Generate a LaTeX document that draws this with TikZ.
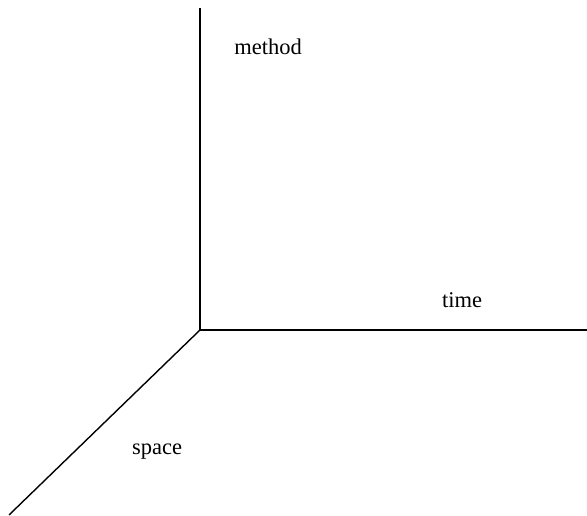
\documentclass[tikz,border=0pt]{standalone}
\usepackage{fontspec}
\setmainfont{Liberation Serif}

\begin{document}
\begin{tikzpicture}[x=1pt, y=1pt, axis/.style={line width=1.4pt}, label/.style={font=\fontsize{22.5}{27}\selectfont, inner sep=0pt}]
\useasboundingbox (0,0) rectangle (587,516);
\coordinate (origin) at (200,186);
\coordinate (methodend) at (200,508);
\coordinate (timeend) at (587,186);
\coordinate (spaceend) at (9,1);
\draw[axis] (methodend) -- (origin) -- (timeend);
\draw[axis] (origin) -- (spaceend);
\node[label] (method) at (268,469) {method};
\node[label] (time) at (462,216) {time};
\node[label] (space) at (157,64) {space};
\end{tikzpicture}
\end{document}
